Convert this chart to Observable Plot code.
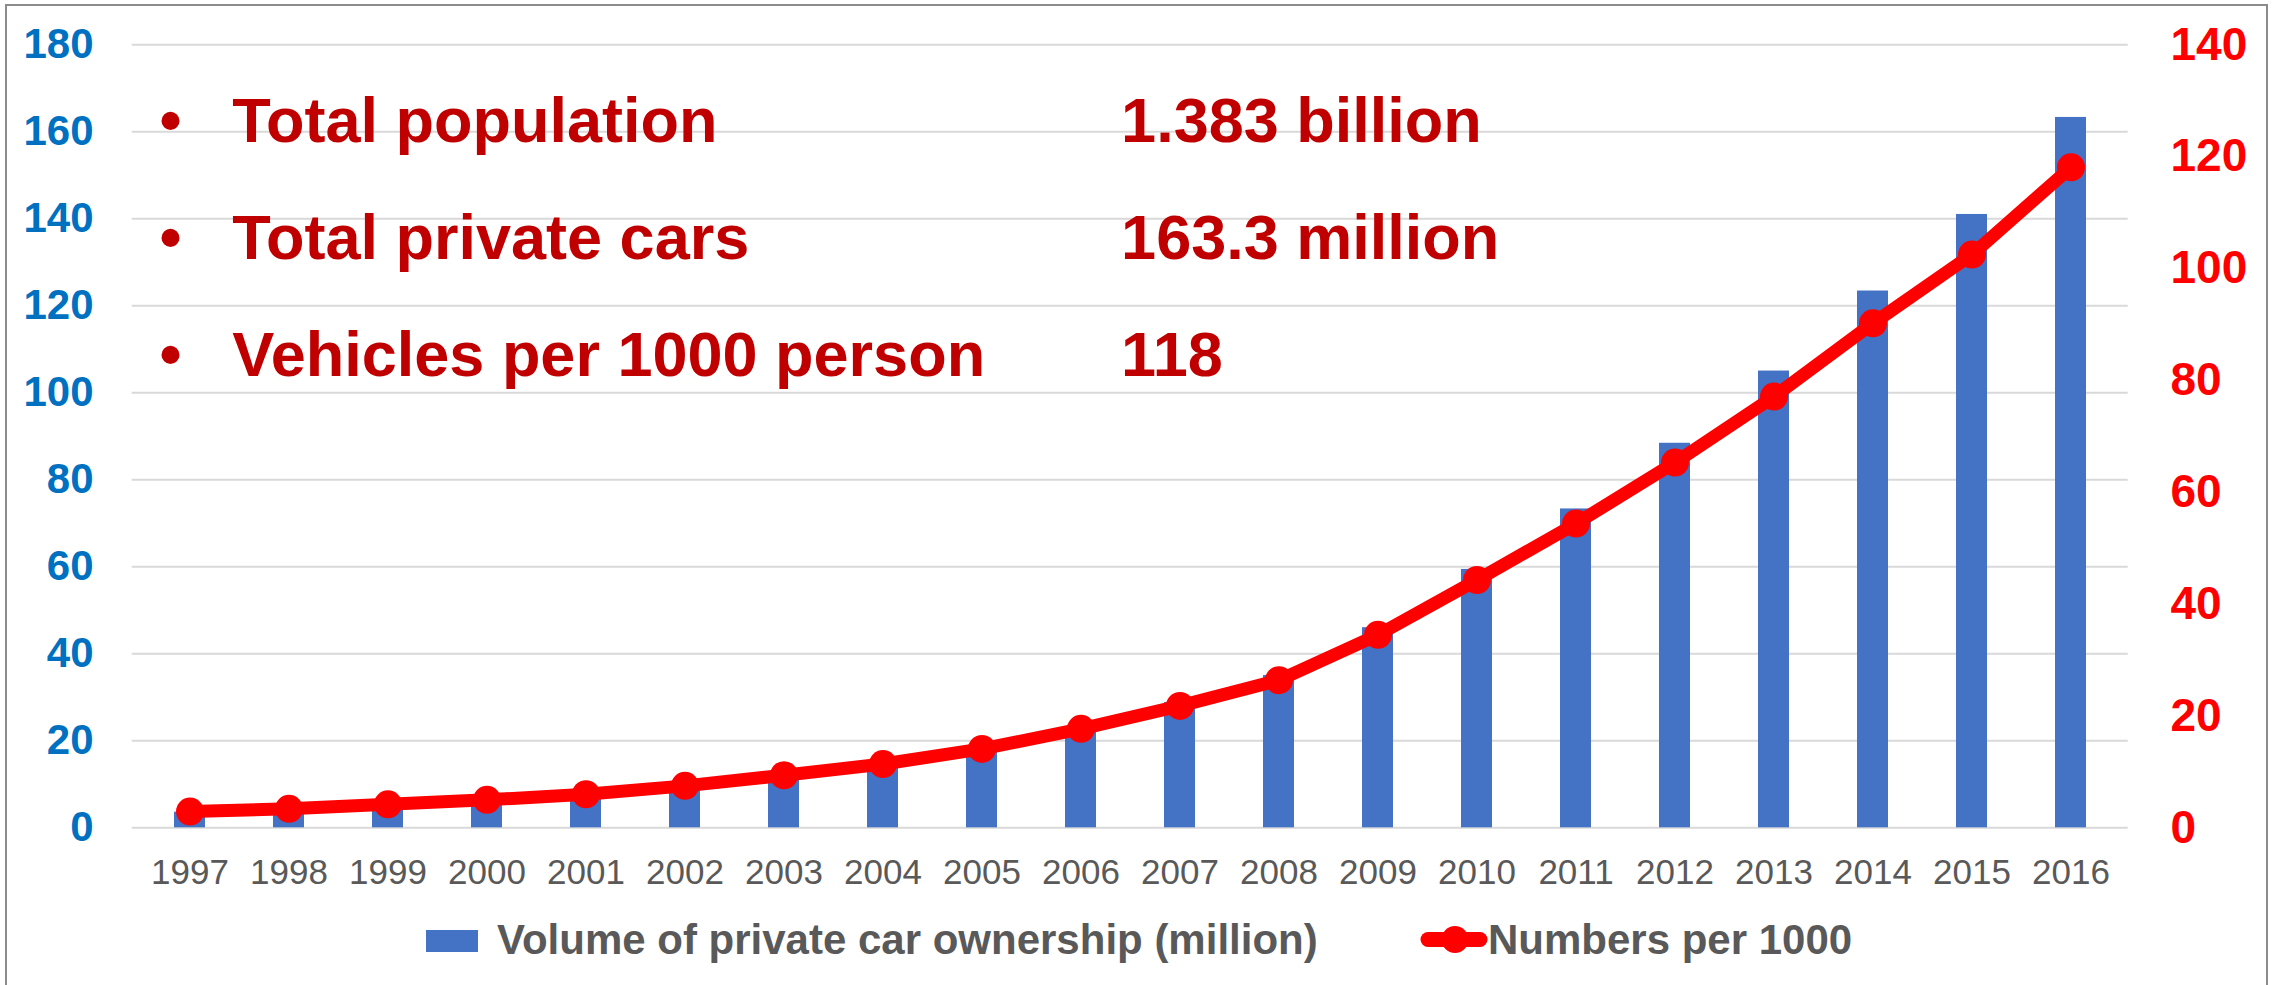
<!DOCTYPE html>
<html>
<head>
<meta charset="utf-8">
<script src="https://cdn.jsdelivr.net/npm/d3@7"></script>
<script src="https://cdn.jsdelivr.net/npm/@observablehq/plot@0.6"></script>
<style>
  html, body { margin: 0; padding: 0; background: #fff; }
  #wrap { position: relative; width: 2279px; height: 985px; overflow: hidden; font-family: "Liberation Sans", Arial, sans-serif; }
  #frame { position: absolute; left: 5px; top: 4px; width: 2259px; height: 1000px; border: 2px solid #8c8c8c; border-bottom: none; }
  #chart { position: absolute; left: 0; top: 0; }
  .leg { position: absolute; font-size: 42px; font-weight: bold; color: #595959; line-height: 48px; white-space: nowrap; }
</style>
</head>
<body>
<div id="wrap">
  <div id="frame"></div>
  <div id="chart"></div>
  <div id="legend"></div>
</div>
<script>
// ---- data ----
const years = ["1997","1998","1999","2000","2001","2002","2003","2004","2005","2006",
               "2007","2008","2009","2010","2011","2012","2013","2014","2015","2016"];
const carsMillion = [3.6, 4.2, 5.3, 6.3, 7.7, 9.7, 12.2, 14.8, 18.5, 23.3,
                     28.8, 35.0, 46.0, 59.4, 73.3, 88.4, 105.0, 123.4, 141.0, 163.3];
const perThousand = [2.9, 3.4, 4.2, 5.0, 6.0, 7.5, 9.4, 11.4, 14.1, 17.7,
                     21.8, 26.4, 34.5, 44.3, 54.4, 65.3, 77.1, 90.2, 102.5, 118.1];
const leftTicks = [0, 20, 40, 60, 80, 100, 120, 140, 160, 180];
const rightTicks = [0, 20, 40, 60, 80, 100, 120, 140];
const summaryLabels = ["Total population", "Total private cars", "Vehicles per 1000 person"];
const summaryValues = ["1.383 billion", "163.3 million", "118"];
const seriesNames = ["Volume of private car ownership (million)", "Numbers per 1000"];

// ---- build ----
const leftMax = 180, rightMax = 140;
const k = leftMax / rightMax;
const data = years.map((year, i) => ({year, cars: carsMillion[i], per: perThousand[i]}));

const marginTop = 44.3, marginLeft = 131.7, marginRight = 151.3, H = 900, marginBottom = H - 827.3;
const lineBaselines = [141.7, 258.3, 375];
const font = "Liberation Sans, Arial, sans-serif";

const textMarks = [];
summaryLabels.forEach((lab, i) => {
  const dy = lineBaselines[i] - marginTop;
  const common = {frameAnchor: "top-left", lineAnchor: "bottom", fontSize: 63, fontWeight: "bold", fill: "#C00000", dy};
  textMarks.push(Plot.text(["\u2022"], {...common, text: d => d, textAnchor: "middle", dx: 170 - marginLeft}));
  textMarks.push(Plot.text([lab], {...common, text: d => d, textAnchor: "start", dx: 231.7 - marginLeft}));
  textMarks.push(Plot.text([summaryValues[i]], {...common, text: d => d, textAnchor: "start", dx: 1120.6 - marginLeft}));
});

const chart = Plot.plot({
  width: 2279,
  height: H,
  marginTop, marginLeft, marginRight, marginBottom,
  style: {background: "transparent", fontFamily: font, overflow: "visible"},
  x: {type: "band", domain: years, paddingInner: 0.69, paddingOuter: 0.345, axis: null, label: null},
  y: {domain: [0, leftMax], axis: null, label: null},
  marks: [
    Plot.gridY(leftTicks, {stroke: "#d9d9d9", strokeOpacity: 1, strokeWidth: 2}),
    Plot.barY(data, {x: "year", y: "cars", fill: "#4472C4"}),
    Plot.line(data, {x: "year", y: d => d.per * k, stroke: "#FF0000", strokeWidth: 13,
                     strokeLinejoin: "round", strokeLinecap: "round"}),
    Plot.dot(data, {x: "year", y: d => d.per * k, r: 14, fill: "#FF0000", stroke: null}),
    Plot.axisX({tickSize: 0, tickPadding: 31, fontSize: 35, fill: "#595959", label: null}),
    Plot.axisY(leftTicks, {anchor: "left", tickSize: 0, tickPadding: 38.7, fontSize: 42,
                           fontWeight: "bold", fill: "#0070C0", label: null}),
    Plot.axisY(rightTicks.map(v => v * k), {anchor: "right", tickSize: 0, tickPadding: 42.3,
                           tickFormat: d => String(Math.round(d / k)), fontSize: 46,
                           fontWeight: "bold", fill: "#FF0000", textAnchor: "start", label: null}),
    ...textMarks
  ]
});
document.getElementById("chart").appendChild(chart);

// ---- legend ----
const legend = document.getElementById("legend");
legend.innerHTML = `
  <div style="position:absolute;left:426px;top:930px;width:52px;height:22px;background:#4472C4"></div>
  <div class="leg" style="left:497px;top:915.5px">${seriesNames[0]}</div>
  <svg style="position:absolute;left:1410px;top:915px" width="90" height="50">
    <line x1="18" y1="24.5" x2="70" y2="24.5" stroke="#FF0000" stroke-width="15" stroke-linecap="round"/>
    <circle cx="45" cy="24.5" r="13.5" fill="#FF0000"/>
  </svg>
  <div class="leg" style="left:1488px;top:915.5px">${seriesNames[1]}</div>
`;
</script>
</body>
</html>
